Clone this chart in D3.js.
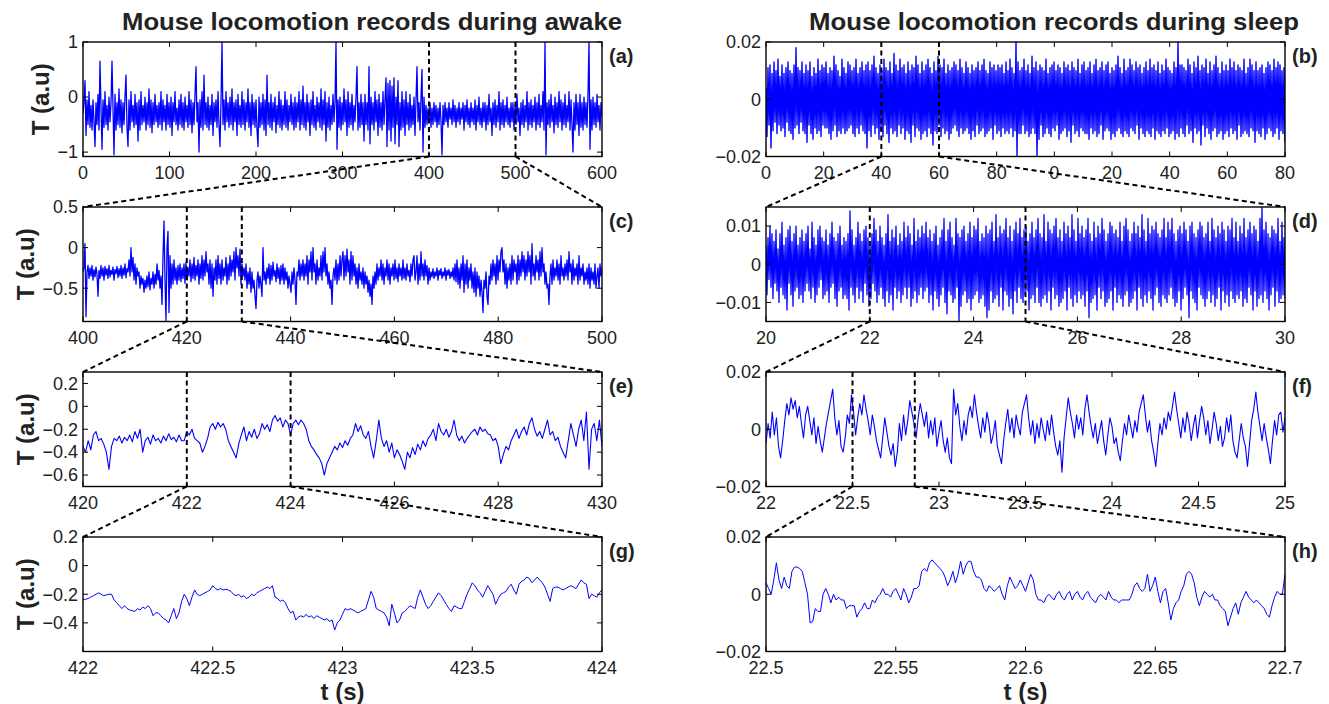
<!DOCTYPE html>
<html><head><meta charset="utf-8">
<script src="https://cdn.jsdelivr.net/npm/d3@7"></script>
<style>body{margin:0;background:#fff} text{font-family:"Liberation Sans",Arial,Helvetica,sans-serif;fill:#222}</style>
</head><body><svg id="chart" width="1329" height="704"></svg>
<script>
// ---------- DATA ----------
// (a) awake, 0-600 s
const awakeA = [
-.3,-.1,.3,-.7,-.05,-.5,.1,-.55,-.15,-.6,-.05,-.45,-.9,-.1,-.5,.05,-.6,.65,-.2,-.95,
-.05,-.55,.1,-.5,-.15,-.6,0,-.45,-.1,.65,-.2,-1.05,.05,-.6,-.1,-.5,.15,-.55,-.05,-.65,
-.1,-.5,0,.4,-.55,-.9,-.05,-.6,.1,-.45,-.15,-.55,.05,-.5,-.1,-.8,-.05,-.6,.1,-.5,
-.15,-.45,0,-.6,-.1,-.5,.15,-.55,-.05,-.65,-.1,-.5,.05,-.45,-.15,-.55,-.1,-.5,.1,-.6,
-.05,-.45,-.15,-.6,.05,-.5,-.1,-.55,0,-.7,-.1,-.45,.1,-.5,-.2,-.6,-.05,-.5,.05,-.55,
-.1,-.6,0,-.45,-.15,-.55,.1,-.5,-.05,-.65,-.1,-.5,.05,.55,-.45,-.1,-1.0,-.05,-.55,.1,
-.6,.4,-.5,-.1,-.55,0,-.6,-.15,-.5,.05,-.7,-.1,-.45,-.05,-.55,.1,-.5,-.9,-.1,1.0,
-.5,-.05,-.6,.1,-.45,-.1,-.55,0,-.5,.15,-.6,-.1,-.45,-.05,-.7,.05,-.5,-.15,-.55,.1,
-.5,-.05,-.6,-.1,-.45,.15,-.55,-.1,-.7,.05,-.5,-.1,-.55,-.05,-.6,-.9,0,-.55,-.1,-.5,
.05,-.6,-.05,-.7,.4,-.5,-.1,-.55,.05,-.6,-.1,-.45,0,-.65,-.15,-.5,.1,-.55,-.05,-.6,
-.15,-.5,.1,-.55,-.05,-.6,-.15,-.45,.05,-.5,-.1,-.6,0,-.55,-.1,-.45,.1,-.6,-.05,-.5,
.2,-.55,-.1,-.6,.05,-.45,-.1,-.7,-.05,-.5,.1,-.55,-.15,-.6,0,-.45,-.1,-.55,.15,-.6,
-.05,-.5,.1,-.8,-.1,-.55,0,-.6,-.15,-.5,.05,-.45,-.1,1.0,-.95,-.05,-.55,0,-.6,-.1,
-.5,.15,-.45,-.05,-.7,.1,-.55,-.1,-.5,.05,-.6,-.15,-.45,0,.55,-.6,-.1,-.55,.05,-.5,
-.1,-.8,.05,-.5,-.1,-.6,.55,-.85,0,-.5,-.1,-.6,.1,-.45,-.05,-.7,.05,-.55,-.1,-.6,
.1,-.5,-.05,.35,-.9,.25,-.6,.3,-.8,.2,-.55,.35,-.85,0,-.5,.3,-.9,-.1,-.6,.1,
-.55,-.05,-.7,.1,-.5,-.1,-.6,.05,-.55,-.15,-.5,0,-.7,-.05,.55,-.45,-.1,-.6,0,.5,
-1.0,0,-.55,-.15,-.5,-.2,-.45,-.1,-.55,-.2,-.5,-.1,-.45,-.15,-.55,-.2,-.5,-.1,-.45,-1.05,
-.15,-.5,-.1,-.45,-.2,-.55,-.1,-.4,-.2,-.5,-.05,-.45,-.15,-.55,-.2,-.45,-.1,-.5,-.2,-.4,
-.1,-.6,-.15,-.45,-.05,-.5,-.2,-.55,-.1,-.45,-.2,-.5,-.05,-.6,-.15,-.45,0,-.5,-.2,-.55,
-.1,-.45,-.1,-.6,-.15,-.5,.05,-.45,-.2,-.7,-.1,-.5,-.05,-.55,-.15,-.45,.1,-.6,-.1,-.5,
-.05,-.55,-.15,-.45,0,-.5,-.2,-.55,-.1,-.45,-.1,-.6,-.15,-.5,.05,-.45,-.2,-.7,-.1,-.5,
-.05,-.55,-.15,-.45,.1,-.6,-.1,-.5,-.05,-.55,-.15,-.45,0,-.6,-.1,-.5,.05,-.55,-.15,-.45,
.1,-.6,1.0,-1.05,-.1,-.5,-.05,-.55,.05,-.45,-.15,-.65,0,-.5,-.1,-.55,.1,-.45,-.05,-.6,
-.1,-.5,.05,-.55,-.15,-.45,.1,-.6,-.05,-.5,-1.0,-.1,-.6,.05,-.5,-.1,-.7,.05,-.55,-.1,
-.6,0,-.5,-.1,-.55,.05,1.0,-.95,-.05,-.6,0,-.5,-.1,-.55,.05,-.45,-.15,-.6,-.1,-.35];
// (b) sleep, 0-180 s
const sleepB = [
.004,-.013,.011,-.009,.012,-.017,.009,-.011,.013,-.008,.010,-.012,.014,-.009,.008,-.011,.012,-.010,.009,-.013,
.011,-.008,.013,-.011,.010,-.012,.009,-.014,.012,-.010,.018,-.009,.011,-.012,.010,-.008,.013,-.011,.009,-.012,
.012,-.015,.010,-.009,.013,-.012,.008,-.014,.011,-.010,.009,-.012,.014,-.011,.010,-.013,.012,-.009,.011,-.010,
.013,-.010,.009,-.012,.011,-.014,.010,-.011,.015,-.009,.012,-.013,.010,-.011,.008,-.012,.014,-.010,.011,-.012,
.009,-.011,.013,-.010,.012,-.009,.010,-.012,.011,-.013,.014,-.010,.009,-.012,.011,-.009,.013,-.011,.010,-.012,
.012,-.017,.013,-.011,.010,-.013,.012,-.009,.015,-.012,.011,-.010,.009,-.014,.012,-.011,.010,-.013,.014,-.009,
.011,-.012,.010,-.015,.013,-.010,.009,-.012,.016,-.011,.012,-.013,.010,-.009,.014,-.012,.011,-.010,.012,-.014,
.009,-.011,.013,-.012,.010,-.015,.012,-.009,.011,-.013,.015,-.010,.012,-.011,.009,-.014,.013,-.012,.010,-.011,
.012,-.013,.014,-.010,.011,-.012,.009,-.016,.013,-.011,.010,-.012,.015,-.009,.012,-.013,.011,-.010,.014,-.012,
.009,-.011,.012,-.014,.010,-.012,.011,-.010,.013,-.009,.012,-.011,.010,-.013,.014,-.010,.011,-.012,.009,-.011,
.013,-.010,.011,-.012,.009,-.014,.012,-.011,.010,-.013,.011,-.009,.013,-.012,.010,-.011,.012,-.010,.014,-.013,
.010,-.012,.009,-.011,.013,-.010,.011,-.014,.012,-.009,.010,-.012,.012,-.011,.011,-.013,.012,-.010,.009,-.012,
.013,-.011,.010,-.012,.014,-.010,.011,-.013,.009,-.011,.020,-.020,.013,-.012,.010,-.012,.011,-.009,.014,-.012,
.010,-.011,.012,-.013,.009,-.012,.015,-.010,.011,-.012,.013,-.020,.010,-.014,.012,-.009,.011,-.013,.010,-.012,
.014,-.010,.009,-.012,.011,-.013,.012,-.010,.013,-.011,.010,-.009,.012,-.014,.011,-.012,.009,-.011,.013,-.010,
.011,-.013,.012,-.011,.010,-.015,.013,-.009,.011,-.012,.010,-.011,.014,-.013,.009,-.010,.012,-.011,.013,-.012,
.010,-.012,.011,-.014,.013,-.010,.009,-.012,.012,-.011,.014,-.013,.010,-.012,.011,-.009,.013,-.014,.010,-.011,
.012,-.010,.013,-.011,.009,-.014,.011,-.012,.010,-.013,.012,-.011,.015,-.010,.011,-.012,.009,-.013,.014,-.011,
.010,-.012,.011,-.013,.014,-.010,.012,-.011,.010,-.012,.013,-.009,.011,-.014,.012,-.010,.009,-.012,.011,-.013,
.013,-.011,.010,-.012,.014,-.013,.011,-.010,.012,-.014,.010,-.011,.013,-.012,.009,-.013,.012,-.011,.010,-.012,
.014,-.010,.011,-.013,.010,-.012,.009,-.011,.013,-.014,.011,-.012,.020,-.013,.012,-.010,.012,-.012,.011,-.013,
.010,-.009,.014,-.012,.012,-.011,.009,-.015,.013,-.010,.011,-.012,.015,-.011,.010,-.016,.012,-.009,.011,-.013,
.014,-.010,.009,-.012,.013,-.014,.010,-.011,.012,-.010,.015,-.013,.011,-.012,.009,-.011,.013,-.014,.010,-.012,
.012,-.011,.010,-.013,.014,-.010,.011,-.012,.013,-.011,.010,-.014,.012,-.009,.011,-.013,.010,-.012,.014,-.011,
.009,-.012,.011,-.013,.014,-.010,.012,-.011,.010,-.015,.013,-.011,.010,-.012,.011,-.013,.012,-.010,.009,-.014,
.011,-.012,.013,-.010,.012,-.011,.010,-.013,.014,-.012,.011,-.010,.013,-.014,.012,-.011,.010,-.012,.011,-.015];
// (c) awake, 400-500 s
const awakeC = [
-.3,-.25,.05,-.85,-.3,-.22,-.38,-.25,-.35,-.22,-.4,-.27,-.36,-.24,-.33,-.6,-.28,-.38,-.22,-.35,
-.25,-.4,-.23,-.34,-.26,-.38,-.22,-.36,-.28,-.33,-.24,-.4,-.27,-.32,-.23,-.37,-.26,-.35,-.22,-.38,
-.25,-.34,-.2,-.37,-.26,-.3,-.15,-.35,0,-.3,-.12,-.4,-.2,-.45,-.25,-.35,-.3,-.5,-.35,-.45,
-.38,-.55,-.4,-.5,-.35,-.48,-.3,-.52,-.38,-.45,-.3,-.5,-.33,-.45,-.2,-.4,-.28,-.5,-.35,-.7,
-.1,.33,-.4,-.9,0,.2,-.8,-.1,-.5,-.2,-.45,-.15,-.4,-.25,-.45,-.22,-.4,-.2,-.42,-.25,
-.38,-.2,-.44,-.18,-.4,-.25,-.35,-.15,-.42,-.2,-.38,-.12,-.4,-.22,-.35,-.15,-.45,-.2,-.38,-.1,
-.4,-.15,-.35,-.05,-.3,-.2,-.45,-.15,-.5,-.2,-.6,-.25,-.4,-.15,-.45,-.1,-.38,-.2,-.45,-.15,
-.4,-.25,-.35,-.12,-.45,-.2,-.4,-.1,-.35,-.15,-.3,-.05,-.4,0,-.25,-.1,-.35,-.02,-.45,-.2,
-.35,-.25,-.4,-.2,-.5,-.3,-.45,-.25,-.55,-.3,-.5,-.4,-.6,-.75,-.4,-.3,-.5,-.35,-.45,-.6,
0,-.4,-.3,-.45,-.25,-.38,-.2,-.45,-.22,-.4,-.18,-.35,-.28,-.42,-.2,-.38,-.25,-.45,-.22,-.4,
-.2,-.45,-.25,-.4,-.3,-.5,-.35,-.45,-.55,-.3,-.45,-.25,-.4,-.7,-.3,-.35,-.15,-.4,-.2,-.35,
-.15,-.4,-.2,-.35,-.1,-.45,-.15,-.3,-.05,-.4,0,-.3,-.2,-.45,-.15,-.4,-.25,-.35,-.1,-.4,
-.05,-.3,0,-.35,-.2,-.45,-.3,-.5,-.4,-.7,-.35,-.25,-.4,-.15,-.45,-.2,-.4,-.1,-.35,-.15,
-.05,-.4,-.1,-.35,-.02,-.3,-.15,-.45,-.05,-.4,-.1,-.35,-.2,-.45,-.25,-.5,-.2,-.4,-.3,-.45,
-.25,-.5,-.3,-.45,-.35,-.55,-.4,-.6,-.45,-.7,-.35,-.5,-.3,-.45,-.2,-.4,-.25,-.35,-.15,-.4,
-.2,-.45,-.25,-.35,-.15,-.4,-.2,-.45,-.25,-.35,-.2,-.4,-.15,-.38,-.25,-.42,-.2,-.35,-.25,-.4,
-.15,-.38,-.25,-.4,-.2,-.35,-.28,-.42,-.2,-.35,-.15,-.1,-.4,-.3,-.1,-.45,-.2,-.4,-.05,-.35,
-.2,-.4,-.15,-.35,-.22,-.45,-.25,-.4,-.3,-.36,-.26,-.38,-.3,-.35,-.25,-.4,-.28,-.34,-.26,-.38,
-.3,-.35,-.25,-.4,-.28,-.34,-.27,-.38,-.3,-.36,-.25,-.4,-.2,-.42,-.15,-.45,-.25,-.5,-.2,-.4,
-.1,-.55,-.2,-.45,-.15,-.5,-.25,-.4,-.2,-.5,-.3,-.55,-.25,-.6,-.3,-.5,-.35,-.6,-.4,-.55,
-.8,-.4,-.5,-.3,-.6,-.7,-.35,-.45,-.2,-.4,-.15,-.35,-.2,-.45,-.1,-.4,-.15,-.3,-.05,0,
-.3,-.15,-.45,-.2,-.5,-.25,-.4,-.2,-.45,-.1,-.4,-.15,-.3,-.2,-.45,-.1,-.4,-.15,-.35,-.05,
-.3,-.1,-.4,-.15,-.35,-.05,-.3,-.1,-.45,.05,-.35,-.2,-.4,-.1,-.3,-.15,-.4,-.05,-.35,0,
-.3,-.2,-.45,-.3,-.5,-.45,-.7,-.35,-.2,-.45,-.15,-.4,-.25,-.35,-.15,-.4,-.2,-.45,-.1,-.35,
-.25,-.4,-.2,-.35,-.15,-.4,-.05,-.3,-.2,-.45,-.15,-.4,-.25,-.35,-.2,-.45,-.1,-.4,-.25,-.35,
-.2,-.45,-.3,-.4,-.25,-.45,-.2,-.5,-.25,-.4,-.3,-.45,-.2,-.5,-.35,-.25,-.5,-.2,-.35,-.25];
// (d) sleep, 20-30 s
const sleepD = [
.005,-.008,.007,-.004,.010,-.006,.008,-.009,.006,-.005,.009,-.007,.004,-.010,.008,-.006,.011,-.008,.005,-.009,
.007,-.012,.009,-.005,.010,-.008,.006,-.011,.008,-.007,.010,-.006,.005,-.009,.007,-.008,.009,-.010,.006,-.007,
.008,-.005,.010,-.007,.004,-.009,.011,-.006,.007,-.010,.005,-.008,.009,-.006,.010,-.004,.007,-.009,.006,-.008,
.009,-.007,.005,-.010,.008,-.006,.011,-.005,.007,-.009,.006,-.011,.008,-.007,.010,-.006,.005,-.009,.007,-.008,
.006,-.009,.008,-.012,.014,-.006,.009,-.008,.005,-.010,.007,-.006,.011,-.009,.008,-.007,.006,-.010,.009,-.005,
.010,-.008,.007,-.011,.006,-.009,.008,-.005,.012,-.007,.009,-.010,.006,-.008,.010,-.006,.007,-.009,.005,-.011,
.008,-.007,.013,-.010,.006,-.008,.009,-.012,.007,-.006,.010,-.009,.005,-.007,.008,-.010,.006,-.008,.011,-.006,
.007,-.009,.010,-.006,.008,-.011,.005,-.009,.012,-.007,.006,-.010,.009,-.008,.007,-.006,.010,-.009,.008,-.007,
.011,-.006,.007,-.010,.009,-.008,.006,-.012,.008,-.007,.010,-.009,.005,-.011,.007,-.008,.009,-.006,.012,-.010,
.006,-.013,.009,-.007,.011,-.008,.007,-.010,.005,-.009,.012,-.006,.008,-.015,.007,-.011,.009,-.008,.010,-.007,
.006,-.010,.008,-.009,.011,-.012,.007,-.009,.010,-.008,.009,-.007,.012,-.010,.006,-.009,.008,-.008,.007,-.011,
.010,-.014,.008,-.012,.009,-.007,.011,-.010,.006,-.009,.013,-.008,.007,-.011,.010,-.006,.008,-.012,.009,-.007,
.012,-.008,.007,-.011,.010,-.009,.006,-.013,.009,-.007,.011,-.010,.008,-.006,.012,-.009,.007,-.010,.009,-.008,
.010,-.007,.006,-.012,.008,-.009,.011,-.008,.007,-.010,.009,-.006,.012,-.010,.008,-.011,.007,-.009,.013,-.008,
.006,-.010,.011,-.007,.009,-.012,.008,-.006,.010,-.009,.012,-.008,.007,-.011,.009,-.010,.006,-.009,.011,-.007,
.008,-.012,.010,-.006,.007,-.009,.013,-.011,.009,-.008,.006,-.010,.012,-.007,.008,-.009,.010,-.008,.007,-.011,
.009,-.007,.012,-.014,.008,-.010,.006,-.009,.011,-.008,.007,-.012,.010,-.006,.008,-.009,.012,-.007,.009,-.011,
.006,-.010,.008,-.009,.011,-.007,.010,-.012,.008,-.006,.009,-.010,.007,-.008,.011,-.009,.006,-.011,.010,-.008,
.012,-.007,.009,-.011,.006,-.010,.008,-.009,.011,-.007,.008,-.012,.010,-.006,.007,-.009,.013,-.011,.009,-.008,
.006,-.010,.012,-.007,.008,-.009,.010,-.012,.009,-.008,.011,-.006,.008,-.010,.007,-.011,.009,-.008,.012,-.009,
.007,-.010,.011,-.008,.009,-.006,.012,-.009,.008,-.011,.006,-.010,.009,-.007,.010,-.012,.008,-.009,.011,-.006,
.009,-.008,.006,-.014,.010,-.007,.011,-.009,.008,-.010,.007,-.012,.009,-.006,.011,-.008,.010,-.009,.007,-.011,
.008,-.009,.011,-.007,.006,-.010,.012,-.008,.009,-.011,.007,-.009,.010,-.006,.008,-.012,.011,-.007,.009,-.010,
.006,-.008,.010,-.011,.009,-.007,.012,-.009,.007,-.010,.011,-.008,.006,-.009,.010,-.007,.008,-.011,.012,-.009,
.007,-.010,.009,-.006,.011,-.008,.008,-.012,.010,-.007,.009,-.011,.006,-.009,.012,-.008,.015,-.010,.009,-.007,
.011,-.009,.008,-.012,.007,-.008,.010,-.006,.009,-.011,.008,-.007,.012,-.010,.006,-.009,.011,-.008,.007,-.009];
// (e) awake, 420-430 s
const awakeE = [
-.35,-.4,-.3,-.38,-.25,-.22,-.3,-.28,-.33,-.4,
-.55,-.35,-.28,-.3,-.26,-.32,-.27,-.3,-.25,-.31,
-.22,-.28,-.2,-.4,-.3,-.27,-.33,-.25,-.3,-.28,
-.32,-.26,-.3,-.24,-.29,-.27,-.31,-.25,-.3,-.3,
-.22,-.25,-.2,-.28,-.3,-.32,-.4,-.35,-.28,-.18,
-.15,-.2,-.14,-.18,-.15,-.2,-.3,-.35,-.4,-.45,
-.33,-.25,-.18,-.3,-.22,-.27,-.2,-.28,-.24,-.15,
-.2,-.16,-.22,-.12,-.08,-.13,-.1,-.18,-.12,-.15,
-.25,-.15,-.12,-.16,-.12,-.15,-.2,-.3,-.35,-.38,
-.42,-.45,-.5,-.6,-.5,-.45,-.4,-.35,-.38,-.32,
-.36,-.3,-.34,-.28,-.25,-.15,-.22,-.17,-.25,-.28,
-.22,-.35,-.45,-.3,-.12,-.28,-.35,-.3,-.4,-.32,
-.45,-.38,-.42,-.48,-.55,-.4,-.45,-.36,-.42,-.33,
-.38,-.3,-.35,-.28,-.25,-.2,-.3,-.15,-.22,-.25,
-.2,-.27,-.22,-.12,-.25,-.3,-.26,-.32,-.28,-.25,
-.22,-.2,-.25,-.18,-.22,-.2,-.24,-.25,-.3,-.28,
-.35,-.5,-.42,-.35,-.38,-.3,-.25,-.2,-.28,-.22,
-.18,-.25,-.15,-.1,-.2,-.26,-.22,-.28,-.2,-.12,
-.25,-.22,-.3,-.27,-.35,-.4,-.45,-.3,-.15,-.25,
-.35,-.2,-.12,-.3,-.05,-.55,-.2,-.15,-.3,-.12,
-.35];
// (f) sleep, 22-25 s
const sleepF = [
-.005,.002,-.003,.006,-.002,.004,-.006,-.010,-.004,.003,
.009,.005,.011,.007,.010,.004,.008,.002,-.003,.005,
.008,.003,-.002,.004,-.005,.001,-.004,-.008,-.003,.002,
.006,.010,.014,.004,-.002,.003,-.006,-.008,-.003,.005,
.002,.012,.006,-.002,.004,.009,.005,.012,.007,.003,
-.002,.005,.001,-.004,-.007,-.010,-.003,.004,-.001,-.006,
-.009,-.005,-.013,-.008,.002,-.004,.005,-.002,.003,.010,
.006,.002,-.003,.004,.009,.005,.001,.006,-.003,.003,
-.002,.004,-.006,-.001,.003,-.004,-.008,-.003,-.010,-.012,
.014,.005,.009,.001,-.004,.003,-.002,.005,.008,.004,
.012,.006,.001,-.003,.004,-.001,.006,.002,-.005,-.002,
.003,-.006,-.009,-.012,-.004,.002,.007,-.001,.004,-.003,
.005,.001,-.002,.006,.009,.012,.004,-.002,.003,-.005,
.002,-.003,.004,0,-.004,.003,-.002,.005,-.001,-.006,
-.009,-.004,-.015,-.003,.004,.011,.006,.002,-.003,.005,
0,.004,-.002,.007,.012,.006,.001,-.003,.002,-.005,
-.001,.003,-.004,-.009,-.002,.004,.001,-.005,-.003,-.008,
-.011,-.004,.002,-.002,.005,.001,-.003,.003,-.001,.006,
.009,.012,.005,-.001,.003,-.004,-.008,-.013,-.005,.002,
-.002,.004,0,.006,.003,.008,.013,.007,.002,-.003,
.004,-.001,.006,.002,-.004,.001,.005,-.003,.003,.008,
.004,-.002,.003,-.005,0,.006,.002,-.004,.001,-.006,
-.003,.004,-.001,.005,-.004,-.008,-.010,-.004,.002,-.003,
-.006,-.013,-.005,.003,.007,.013,.006,.001,-.004,.002,
-.003,-.007,-.012,-.004,.003,-.002,.005,.006,-.001,.004];
// (g) awake, 422-424 s
const awakeG = [
-.24,-.235,-.23,-.22,-.21,-.2,-.19,-.2,-.21,-.205,
-.2,-.2,-.24,-.26,-.28,-.3,-.28,-.3,-.31,-.315,
-.32,-.3,-.31,-.29,-.3,-.28,-.3,-.35,-.33,-.33,
-.35,-.37,-.38,-.4,-.35,-.3,-.37,-.33,-.25,-.2,
-.23,-.28,-.22,-.17,-.2,-.21,-.2,-.19,-.18,-.17,
-.14,-.16,-.17,-.16,-.17,-.165,-.17,-.18,-.2,-.21,
-.2,-.22,-.21,-.23,-.22,-.2,-.21,-.19,-.18,-.17,
-.16,-.15,-.16,-.14,-.22,-.23,-.25,-.24,-.26,-.3,
-.33,-.32,-.38,-.36,-.35,-.36,-.34,-.36,-.35,-.37,
-.35,-.36,-.37,-.38,-.37,-.39,-.38,-.45,-.4,-.38,
-.34,-.3,-.31,-.3,-.31,-.32,-.33,-.32,-.31,-.3,
-.24,-.18,-.22,-.3,-.31,-.32,-.33,-.36,-.42,-.27,
-.33,-.4,-.38,-.33,-.32,-.3,-.28,-.29,-.3,-.22,
-.17,-.22,-.27,-.3,-.28,-.25,-.22,-.19,-.21,-.24,
-.27,-.3,-.32,-.28,-.29,-.3,-.3,-.25,-.2,-.16,
-.12,-.14,-.17,-.19,-.22,-.18,-.14,-.17,-.2,-.27,
-.23,-.2,-.19,-.18,-.15,-.13,-.17,-.2,-.13,-.11,
-.1,-.08,-.09,-.12,-.1,-.08,-.1,-.12,-.15,-.2,
-.25,-.16,-.15,-.15,-.16,-.17,-.16,-.15,-.14,-.15,
-.16,-.13,-.1,-.12,-.13,-.23,-.2,-.21,-.22,-.19,
-.17];
// (h) sleep, 22.5-22.7 s
const sleepH = [
.004,.002,0,.005,.011,.005,.002,.006,.003,.002,
.008,.0095,.0095,.009,.008,.004,0,-.010,-.0095,-.005,
-.006,-.006,0,.002,0,-.003,0,-.002,-.001,-.002,
-.002,-.005,-.004,-.004,-.004,-.008,-.006,-.005,-.003,-.005,
-.005,-.002,-.003,-.001,0,.002,0,0,-.001,.001,
.002,0,-.002,.002,0,-.003,-.001,.002,.002,.003,
.008,.009,.008,.011,.012,.011,.010,.009,.008,.006,
.003,.005,.008,.004,.007,.0115,.007,.010,.0115,.0115,
.008,.006,.006,.005,.002,.001,.003,.002,.001,.002,
.003,0,-.002,.003,.006,.004,.002,.003,.005,.003,
.001,.004,.007,.005,0,-.002,-.002,-.003,-.001,0,
-.001,-.002,0,.001,-.001,-.002,0,.001,-.002,0,
.001,-.001,-.002,0,.001,-.001,-.002,-.003,-.001,0,
-.001,-.002,.001,-.001,-.002,-.002,-.003,-.002,-.002,-.002,
-.002,0,.003,.004,.002,.001,.002,.007,.001,.003,
.006,.001,-.003,.001,.002,-.003,-.009,-.005,-.003,-.002,
.001,.003,.007,.008,.007,.004,-.001,-.004,-.001,.001,
0,-.001,0,-.002,-.002,-.004,-.005,-.006,-.011,-.008,
-.005,-.003,-.007,-.003,-.001,.001,-.001,-.002,-.003,-.002,
-.003,-.004,-.005,-.007,-.008,-.004,-.001,.001,0,0,
.007];

// ticks and labels
const ticksA = [0,100,200,300,400,500,600];
const ticksB = [0,20,40,60,80,100,120,140,160,180];
const labelsB = ["0","20","40","60","80","0","20","40","60","80"];
const ticksC = [400,420,440,460,480,500];
const ticksD = [20,22,24,26,28,30];
const ticksE = [420,422,424,426,428,430];
const ticksF = [22,22.5,23,23.5,24,24.5,25];
const ticksG = [422,422.5,423,423.5,424];
const ticksH = [22.5,22.55,22.6,22.65,22.7];
const yTicksA = [-1,0,1], yLabelsA = ["\u22121","0","1"];
const yTicksSleep2 = [-0.02,0,0.02], yLabelsSleep2 = ["\u22120.02","0","0.02"];
const yTicksC = [-0.5,0,0.5], yLabelsC = ["\u22120.5","0","0.5"];
const yTicksD = [-0.01,0,0.01], yLabelsD = ["\u22120.01","0","0.01"];
const yTicksE = [-0.6,-0.4,-0.2,0,0.2], yLabelsE = ["\u22120.6","\u22120.4","\u22120.2","0","0.2"];
const yTicksG = [-0.4,-0.2,0,0.2], yLabelsG = ["\u22120.4","\u22120.2","0","0.2"];
const titles = ["Mouse locomotion records during awake","Mouse locomotion records during sleep"];

// ---------- LAYOUT ----------
const svg = d3.select("#chart");
const colX = [[83,602],[766,1285]];
const rowTop = [42,207,372,537];
const H = 114.5;

const panels = [
 {key:"a",col:0,row:0,data:awakeA,t:[0,600],y:[-1.08,1],xt:ticksA,xl:ticksA.map(String),yt:yTicksA,yl:yLabelsA,marks:[400,500],sw:1.3},
 {key:"b",col:1,row:0,data:sleepB,t:[0,180],y:[-0.02,0.02],xt:ticksB,xl:labelsB,yt:yTicksSleep2,yl:yLabelsSleep2,marks:[40,60],sw:1.4},
 {key:"c",col:0,row:1,data:awakeC,t:[400,500],y:[-0.91,0.5],xt:ticksC,xl:ticksC.map(String),yt:yTicksC,yl:yLabelsC,marks:[420,430.6],sw:1.3},
 {key:"d",col:1,row:1,data:sleepD,t:[20,30],y:[-0.015,0.015],xt:ticksD,xl:ticksD.map(String),yt:yTicksD,yl:yLabelsD,marks:[22,25],sw:1.3},
 {key:"e",col:0,row:2,data:awakeE,t:[420,430],y:[-0.7,0.3],xt:ticksE,xl:ticksE.map(String),yt:yTicksE,yl:yLabelsE,marks:[422,424],sw:1.1},
 {key:"f",col:1,row:2,data:sleepF,t:[22,25],y:[-0.02,0.02],xt:ticksF,xl:ticksF.map(String),yt:yTicksSleep2,yl:yLabelsSleep2,marks:[22.5,22.86],sw:1.1},
 {key:"g",col:0,row:3,data:awakeG,t:[422,424],y:[-0.6,0.2],xt:ticksG,xl:ticksG.map(String),yt:yTicksG,yl:yLabelsG,marks:[],sw:1},
 {key:"h",col:1,row:3,data:sleepH,t:[22.5,22.7],y:[-0.02,0.02],xt:ticksH,xl:ticksH.map(String),yt:yTicksSleep2,yl:yLabelsSleep2,marks:[],sw:1}
];

const defs = svg.append("defs");
const TL = 5;
const scales = {};

panels.forEach(p=>{
  const [x0,x1] = colX[p.col];
  const top = rowTop[p.row], bot = top + H;
  const x = d3.scaleLinear().domain(p.t).range([x0,x1]);
  const y = d3.scaleLinear().domain(p.y).range([bot,top]);
  scales[p.key] = {x,y,x0,x1,top,bot};
  defs.append("clipPath").attr("id","clip-"+p.key).append("rect")
    .attr("x",x0).attr("y",top).attr("width",x1-x0).attr("height",H);
  const g = svg.append("g");
  const n = p.data.length, dt = (p.t[1]-p.t[0])/(n-1);
  const line = d3.line().x((d,i)=>x(p.t[0]+i*dt)).y(d=>y(d));
  g.append("path").datum(p.data).attr("d",line)
    .attr("fill","none").attr("stroke","#0000ff").attr("stroke-width",p.sw)
    .attr("stroke-linejoin","round")
    .attr("clip-path","url(#clip-"+p.key+")");
  g.append("rect").attr("x",x0).attr("y",top).attr("width",x1-x0).attr("height",H)
    .attr("fill","none").attr("stroke","#000").attr("stroke-width",1.4);
  p.xt.forEach((v,i)=>{
    const xx = x(v);
    g.append("line").attr("x1",xx).attr("x2",xx).attr("y1",bot).attr("y2",bot-TL).attr("stroke","#000").attr("stroke-width",1);
    g.append("line").attr("x1",xx).attr("x2",xx).attr("y1",top).attr("y2",top+TL).attr("stroke","#000").attr("stroke-width",1);
    g.append("text").attr("x",xx).attr("y",bot+22).attr("text-anchor","middle")
      .attr("font-size",18).text(p.xl[i]);
  });
  let minLeft = x0;
  p.yt.forEach((v,i)=>{
    const yy = y(v);
    g.append("line").attr("x1",x0).attr("x2",x0+TL).attr("y1",yy).attr("y2",yy).attr("stroke","#000").attr("stroke-width",1);
    g.append("line").attr("x1",x1).attr("x2",x1-TL).attr("y1",yy).attr("y2",yy).attr("stroke","#000").attr("stroke-width",1);
    const t = g.append("text").attr("x",x0-5).attr("y",yy).attr("dy","0.35em").attr("text-anchor","end")
      .attr("font-size",18).text(p.yl[i]);
    minLeft = Math.min(minLeft, x0-5-t.node().getComputedTextLength());
  });
  g.append("text").attr("x",x1+7).attr("y",top+21).attr("font-size",20).attr("font-weight","bold")
    .text("("+p.key+")");
  if(p.col===0){
    svg.append("text").attr("transform",`translate(${minLeft-17},${(top+bot)/2}) rotate(-90)`)
      .attr("text-anchor","middle").attr("dy","0.35em").attr("font-size",24).attr("font-weight","bold")
      .text("T (a.u)");
  }
});

// zoom markers and connectors
function dl(x1,y1,x2,y2){
  svg.append("line").attr("x1",x1).attr("y1",y1).attr("x2",x2).attr("y2",y2)
    .attr("stroke","#000").attr("stroke-width",2).attr("stroke-dasharray","5,3.5");
}
panels.forEach(p=>{
  if(!p.marks.length) return;
  const s = scales[p.key];
  const next = panels.find(q=>q.col===p.col && q.row===p.row+1);
  const ns = scales[next.key];
  const xa = s.x(p.marks[0]), xb = s.x(p.marks[1]);
  dl(xa,s.top,xa,s.bot);
  dl(xb,s.top,xb,s.bot);
  dl(xa,s.bot,ns.x0,ns.top);
  dl(xb,s.bot,ns.x1,ns.top);
});

// titles
svg.append("text").attr("x",372).attr("y",30).attr("text-anchor","middle").attr("font-size",24)
  .attr("font-weight","bold").attr("textLength",500).attr("lengthAdjust","spacingAndGlyphs").text(titles[0]);
svg.append("text").attr("x",1054).attr("y",30).attr("text-anchor","middle").attr("font-size",24)
  .attr("font-weight","bold").attr("textLength",490).attr("lengthAdjust","spacingAndGlyphs").text(titles[1]);
[0,1].forEach(c=>{
  svg.append("text").attr("x",(colX[c][0]+colX[c][1])/2).attr("y",700).attr("text-anchor","middle")
    .attr("font-size",24).attr("font-weight","bold").text("t (s)");
});
</script></body></html>
